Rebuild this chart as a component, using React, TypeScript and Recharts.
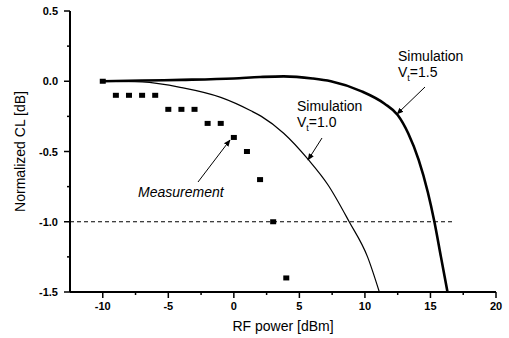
import { ComposedChart, Line, Scatter, XAxis, YAxis } from "recharts";

// measured normalized conversion loss
const measPower = [-10, -9, -8, -7, -6, -5, -4, -3, -2, -1, 0, 1, 2, 3, 4];
const measCL = [0, -0.1, -0.1, -0.1, -0.1, -0.2, -0.2, -0.2, -0.3, -0.3, -0.4, -0.5, -0.7, -1.0, -1.4];

// simulation, Vt = 1.0 (thin)
const sim10Power = [-10, -7, -4, -1, 1.3, 2.1, 3.8, 5.7, 7.2, 8.8, 10.2, 11.1];
const sim10CL = [0, -0.005, -0.045, -0.115, -0.21, -0.25, -0.37, -0.56, -0.74, -1.0, -1.25, -1.5];

// simulation, Vt = 1.5 (thick)
const sim15Power = [-10, -7, -4, 0, 2, 3.8, 6, 7.4, 9.7, 11.5, 12.5, 13.3, 14.1, 14.8, 15.3, 15.8, 16.3];
const sim15CL = [0, 0.005, 0.01, 0.02, 0.03, 0.035, 0.02, 0, -0.07, -0.16, -0.24, -0.37, -0.56, -0.79, -1.0, -1.25, -1.5];

// -1 dB reference
const refPower = [-12.5, 16.7];
const refCL = [-1, -1];

const xTicks = [-12.5, -10, -7.5, -5, -2.5, 0, 2.5, 5, 7.5, 10, 12.5, 15, 17.5, 20];
const yTicks = [-1.5, -1.25, -1, -0.75, -0.5, -0.25, 0, 0.25, 0.5];

const zip = (xs: number[], ys: number[]) => xs.map((x, i) => ({ x, y: ys[i] }));

const measData = zip(measPower, measCL);
const sim10Data = zip(sim10Power, sim10CL);
const sim15Data = zip(sim15Power, sim15CL);
const refData = zip(refPower, refCL);

const FONT = "'Liberation Sans', Arial, sans-serif";

const isMajor = (v: number, step: number) => Math.abs(v / step - Math.round(v / step)) < 1e-6;

function XTick({ x, y, payload }: any) {
  const v = payload.value;
  if (v === -12.5) return null;
  const major = isMajor(v, 5);
  return (
    <g>
      <line x1={x} x2={x} y1={y} y2={y + (major ? 6 : 3)} stroke="#000" strokeWidth={1.5} />
      {major && (
        <text x={x} y={y + 18} textAnchor="middle" fontFamily={FONT} fontSize={11} fontWeight="bold" fill="#000">
          {v}
        </text>
      )}
    </g>
  );
}

function YTick({ x, y, payload }: any) {
  const v = payload.value;
  const major = isMajor(v, 0.5);
  return (
    <g>
      <line x1={x} x2={x - (major ? 6 : 3)} y1={y} y2={y} stroke="#000" strokeWidth={1.5} />
      {major && (
        <text x={x - 12} y={y + 4} textAnchor="end" fontFamily={FONT} fontSize={11} fontWeight="bold" fill="#000">
          {v.toFixed(1)}
        </text>
      )}
    </g>
  );
}

const square = (p: any) => <rect x={p.cx - 3} y={p.cy - 2.5} width={6} height={5} fill="#000" />;

function Notes() {
  const t = { fontFamily: FONT, fontSize: 14, fill: "#000" };
  return (
    <svg width={509} height={338} style={{ position: "absolute", left: 0, top: 0, pointerEvents: "none" }}>
      <defs>
        <marker id="ah" viewBox="0 0 10 10" refX="9" refY="5" markerWidth="7" markerHeight="7" orient="auto">
          <path d="M0,1 L10,5 L0,9 z" fill="#000" />
        </marker>
      </defs>
      <text x={398} y={61} {...t}>Simulation</text>
      <text x={398} y={77} {...t}>
        V<tspan dy={4} fontSize={9}>t</tspan>
        <tspan dy={-4}>=1.5</tspan>
      </text>
      <line x1={425} y1={87} x2={397} y2={114} stroke="#000" strokeWidth={1} markerEnd="url(#ah)" />

      <text x={297} y={111} {...t}>Simulation</text>
      <text x={297} y={127} {...t}>
        V<tspan dy={4} fontSize={9}>t</tspan>
        <tspan dy={-4}>=1.0</tspan>
      </text>
      <line x1={322} y1={138} x2={308} y2={160} stroke="#000" strokeWidth={1} markerEnd="url(#ah)" />

      <text x={138} y={197} {...t} fontStyle="italic">Measurement</text>
      <line x1={198} y1={182} x2={230} y2={140} stroke="#000" strokeWidth={1} markerEnd="url(#ah)" />
    </svg>
  );
}

export default function App() {
  return (
    <div style={{ position: "absolute", left: 0, top: 0, width: 509, height: 338, background: "#fff" }}>
      <ComposedChart width={509} height={338} margin={{ top: 11, right: 13, bottom: 0, left: 0 }}>
        <XAxis
          type="number"
          dataKey="x"
          domain={[-12.5, 20]}
          ticks={xTicks}
          interval={0}
          tick={<XTick />}
          tickLine={false}
          tickSize={0}
          tickMargin={0}
          height={46}
          axisLine={{ stroke: "#000", strokeWidth: 2 }}
          allowDataOverflow
          label={{ value: "RF power [dBm]", position: "insideBottom", offset: 7, fontFamily: FONT, fontSize: 14, fill: "#000" }}
        />
        <YAxis
          type="number"
          dataKey="y"
          domain={[-1.5, 0.5]}
          ticks={yTicks}
          interval={0}
          tick={<YTick />}
          tickLine={false}
          tickSize={0}
          tickMargin={0}
          width={70}
          axisLine={{ stroke: "#000", strokeWidth: 2 }}
          allowDataOverflow
          label={{ value: "Normalized CL [dB]", angle: -90, position: "insideLeft", offset: 20, style: { textAnchor: "middle" }, fontFamily: FONT, fontSize: 14, fill: "#000" }}
        />
        <Line data={refData} dataKey="y" stroke="#000" strokeWidth={1} strokeDasharray="4 3" dot={false} activeDot={false} isAnimationActive={false} />
        <Line data={sim10Data} dataKey="y" type="monotone" stroke="#000" strokeWidth={1.2} dot={false} activeDot={false} isAnimationActive={false} />
        <Line data={sim15Data} dataKey="y" type="monotone" stroke="#000" strokeWidth={2.6} dot={false} activeDot={false} isAnimationActive={false} />
        <Scatter data={measData} dataKey="y" fill="#000" shape={square} isAnimationActive={false} />
      </ComposedChart>
      <Notes />
    </div>
  );
}
